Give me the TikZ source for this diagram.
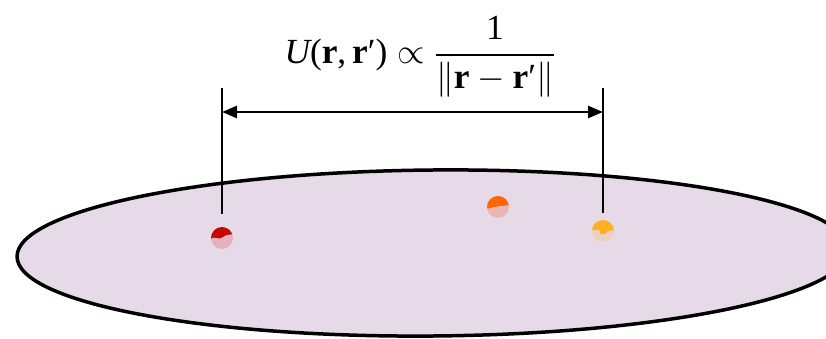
\documentclass[tikz,border=0pt]{standalone}
\usepackage{amsmath}
\usepackage{fontspec}
\setmainfont{Liberation Serif}
\usetikzlibrary{arrows.meta}
\definecolor{diskfill}{RGB}{230,218,232}
\definecolor{redhi}{RGB}{196,10,0}
\definecolor{redlo}{RGB}{226,178,190}
\definecolor{orghi}{RGB}{255,102,0}
\definecolor{orglo}{RGB}{234,184,180}
\definecolor{yelhi}{RGB}{255,176,32}
\definecolor{yello}{RGB}{238,208,192}
\tikzset{
  disk/.style={draw=black, line width=3.5pt, fill=diskfill},
  particle/.style={circle, inner sep=0pt, minimum size=22pt},
  guide/.style={line width=2.2pt, black},
  dim/.style={line width=2.6pt, black, {Triangle[length=15pt,width=12pt]}-{Triangle[length=15pt,width=12pt]}},
  formula/.style={font=\fontsize{24.88}{30}\selectfont, inner sep=0pt}
}
\begin{document}
\begin{tikzpicture}[x=1pt,y=-1pt]
\useasboundingbox (0,0) rectangle (826,339);
\begin{scope}
\clip (0,0) rectangle (826,339);
\draw[disk, rotate around={0.5:(433,253)}] (433,253) ellipse [x radius=416, y radius=83];
\end{scope}
% particles
\node[particle, fill=redlo] (p1) at (222,238) {};
\node[particle, fill=orglo] (p2) at (498,207) {};
\node[particle, fill=yello] (p3) at (603,231) {};
\begin{scope}[shift={(p1.center)}]
\clip (0,0) circle (11);
\fill[redhi] (-12,1) .. controls (-7,-3) and (-3,3) .. (1,-1) .. controls (4,-4) and (8,-3) .. (12,-4) -- (12,-12) -- (-12,-12) -- cycle;
\end{scope}
\begin{scope}[shift={(p2.center)}]
\clip (0,0) circle (11);
\fill[orghi] (-12,2) .. controls (-6,1) and (-2,-1) .. (3,-1) .. controls (6,-1) and (9,-2) .. (12,-2) -- (12,-12) -- (-12,-12) -- cycle;
\end{scope}
\begin{scope}[shift={(p3.center)}]
\clip (0,0) circle (11);
\fill[yelhi] (-12,-1) -- (-3,-1) -- (-3,3) -- (3,3) -- (4,0) -- (12,-1) -- (12,-12) -- (-12,-12) -- cycle;
\end{scope}
% guides
\coordinate (t1) at (222,88);
\coordinate (b1) at (222,214);
\coordinate (t2) at (603,88);
\coordinate (b2) at (603,213);
\coordinate (a1) at (222,112);
\coordinate (a2) at (603,112);
\draw[guide] (t1) -- (b1);
\draw[guide] (t2) -- (b2);
\draw[dim] (a1) -- (a2);
% formula
\node[formula] (eq) at (420,57) {\scalebox{1.42}{$\displaystyle \textit{U}\textup{(}\textbf{r}\textup{,\,}\textbf{r}\textup{′}\textup{)} \propto \genfrac{}{}{1.5pt}{0}{\textup{1}}{\|\textbf{r}-\textbf{r}\textup{′}\|}$}};
\end{tikzpicture}
\end{document}
